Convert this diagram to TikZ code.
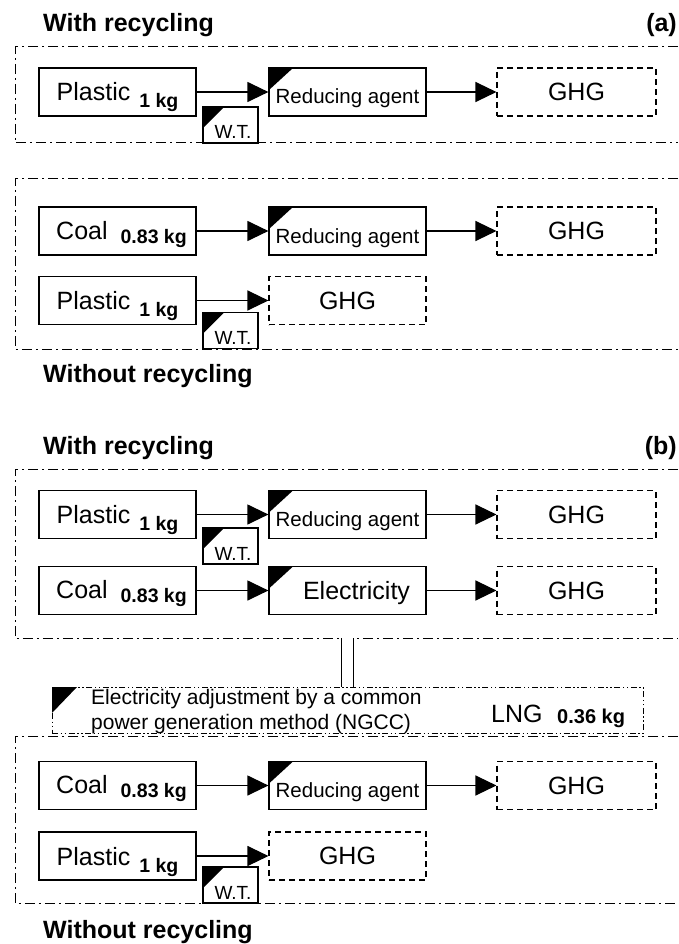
\documentclass[tikz,border=0pt]{standalone}
\usepackage{fontspec}
\setmainfont{Liberation Sans}
\usetikzlibrary{arrows.meta}
\newcommand{\kgf}{\bfseries\fontsize{19.5}{22}\selectfont}
\begin{document}
\begin{tikzpicture}[x=1pt,y=-1pt,
  head/.style={font=\bfseries\fontsize{25}{30}\selectfont, inner sep=0pt},
  solidbox/.style={draw, line width=1.2pt, minimum width=157pt, minimum height=48pt, inner sep=0pt},
  ghgbox/.style={draw, line width=1.1pt, dash pattern=on 6pt off 4pt, minimum width=159pt, minimum height=48pt, inner sep=0pt, font=\fontsize{25}{30}\selectfont, text height=17pt, text depth=0pt},
  corner/.style 2 args={path picture={\fill[black] (path picture bounding box.north west) -- ++(#1,0pt) -- ++(-#1,-#2) -- cycle;}},
  srcbox/.style={solidbox, font=\fontsize{25}{30}\selectfont},
  redbox/.style={solidbox, corner={24pt}{22pt}, font=\fontsize{20.5}{24}\selectfont, text height=24pt, text depth=0pt},
  elbox/.style={solidbox, corner={24pt}{22pt}, font=\fontsize{25}{30}\selectfont, text height=17pt, text depth=0pt},
  wtbox/.style={draw, line width=1.2pt, minimum width=55pt, minimum height=36pt, inner sep=0pt, fill=white, corner={21pt}{21pt}, font=\fontsize{19}{22}\selectfont, text height=28pt, text depth=0pt},
  frame/.style={line width=1pt, dash pattern=on 10pt off 4pt on 2pt off 4pt},
  adjframe/.style={draw, line width=0.9pt, dash pattern=on 6pt off 2.5pt on 1.5pt off 2.5pt on 1.5pt off 2.5pt, minimum width=591pt, minimum height=46pt, inner sep=0pt, corner={25pt}{26pt}},
  flow/.style={line width=1.2pt, -{Triangle[length=21pt,width=20pt]}},
  adjtext/.style={font=\fontsize{21}{25}\selectfont, inner sep=0pt, anchor=base west},
]
\useasboundingbox (0,0) rectangle (678,944);

% ---------------- panel (a) ----------------
\node[head, anchor=base west] (ha1) at (43,32) {With recycling};
\node[head, anchor=base east] (hla) at (677,32) {(a)};
\draw[frame] (678,47) -- (15,47) -- (15,143) -- (678,143);

\node[srcbox, text height=18pt, text depth=0pt] (pa1) at (117.5,92) {Plastic\hspace{9pt}\raisebox{-7pt}{\kgf 1 kg}};
\node[redbox] (ra1) at (347.5,92) {Reducing agent};
\node[ghgbox] (ga1) at (576.5,92) {GHG};
\node[wtbox] (wta1) at (230.5,125) {\hspace*{5pt}W.T.};
\draw[flow] (pa1) -- (ra1);
\draw[flow] (ra1) -- (ga1);

\draw[frame] (678,179) -- (15,179) -- (15,349) -- (678,349);
\node[srcbox, text height=16pt, text depth=0pt] (ca2) at (117.5,231) {\hspace*{8pt}Coal\hspace{13pt}\raisebox{-4pt}{\kgf 0.83 kg}};
\node[redbox] (ra2) at (347.5,231) {Reducing agent};
\node[ghgbox] (ga2) at (576.5,231) {GHG};
\draw[flow] (ca2) -- (ra2);
\draw[flow] (ra2) -- (ga2);
\node[srcbox, text height=18pt, text depth=0pt] (pa2) at (117.5,300.5) {Plastic\hspace{9pt}\raisebox{-7pt}{\kgf 1 kg}};
\node[ghgbox, minimum width=157pt] (ga3) at (347.5,300.5) {GHG};
\node[wtbox] (wta2) at (230.5,330.5) {\hspace*{5pt}W.T.};
\draw[flow] (pa2) -- (ga3);
\node[head, anchor=base west] (hwa) at (43,382) {Without recycling};

% ---------------- panel (b) ----------------
\node[head, anchor=base west] (hb1) at (43,454) {With recycling};
\node[head, anchor=base east] (hlb) at (677,454) {(b)};
\draw[frame] (678,469) -- (15,469) -- (15,638) -- (678,638);

\node[srcbox, text height=18pt, text depth=0pt] (pb1) at (117.5,514.5) {Plastic\hspace{9pt}\raisebox{-7pt}{\kgf 1 kg}};
\node[redbox] (rb1) at (347.5,514.5) {Reducing agent};
\node[ghgbox] (gb1) at (576.5,514.5) {GHG};
\node[wtbox] (wtb1) at (230.5,546) {\hspace*{5pt}W.T.};
\draw[flow] (pb1) -- (rb1);
\draw[flow] (rb1) -- (gb1);

\node[srcbox, text height=16pt, text depth=0pt] (cb1) at (117.5,590.5) {\hspace*{8pt}Coal\hspace{13pt}\raisebox{-4pt}{\kgf 0.83 kg}};
\node[elbox] (eb1) at (347.5,590.5) {\hspace*{18pt}Electricity};
\node[ghgbox] (gb2) at (576.5,590.5) {GHG};
\draw[flow] (cb1) -- (eb1);
\draw[flow] (eb1) -- (gb2);

% electricity adjustment
\coordinate (b3bot) at (347.5,638);
\node[adjframe] (adj) at (347.5,710) {};
\draw[line width=1.2pt, double, double distance=10.8pt] (b3bot) -- (adj.north);
\node[adjtext] (adjA) at (91,704) {Electricity adjustment by a common};
\node[adjtext] (adjB) at (91,729) {power generation method (NGCC)};
\node[font=\fontsize{25}{30}\selectfont, inner sep=0pt, anchor=base west] (lng) at (491,722) {LNG};
\node[font=\bfseries\fontsize{20}{24}\selectfont, inner sep=0pt, anchor=base west] (lngkg) at (557,723) {0.36 kg};

\draw[frame] (678,736) -- (15,736) -- (15,903) -- (678,903);
\node[srcbox, text height=16pt, text depth=0pt] (cb2) at (117.5,785.5) {\hspace*{8pt}Coal\hspace{13pt}\raisebox{-4pt}{\kgf 0.83 kg}};
\node[redbox] (rb2) at (347.5,785.5) {Reducing agent};
\node[ghgbox] (gb3) at (576.5,785.5) {GHG};
\draw[flow] (cb2) -- (rb2);
\draw[flow] (rb2) -- (gb3);
\node[srcbox, text height=18pt, text depth=0pt] (pb2) at (117.5,856) {Plastic\hspace{9pt}\raisebox{-7pt}{\kgf 1 kg}};
\node[ghgbox, minimum width=157pt] (gb4) at (347.5,856) {GHG};
\node[wtbox] (wtb2) at (230.5,885) {\hspace*{5pt}W.T.};
\draw[flow] (pb2) -- (gb4);
\node[head, anchor=base west] (hwb) at (43,938) {Without recycling};
\end{tikzpicture}
\end{document}
